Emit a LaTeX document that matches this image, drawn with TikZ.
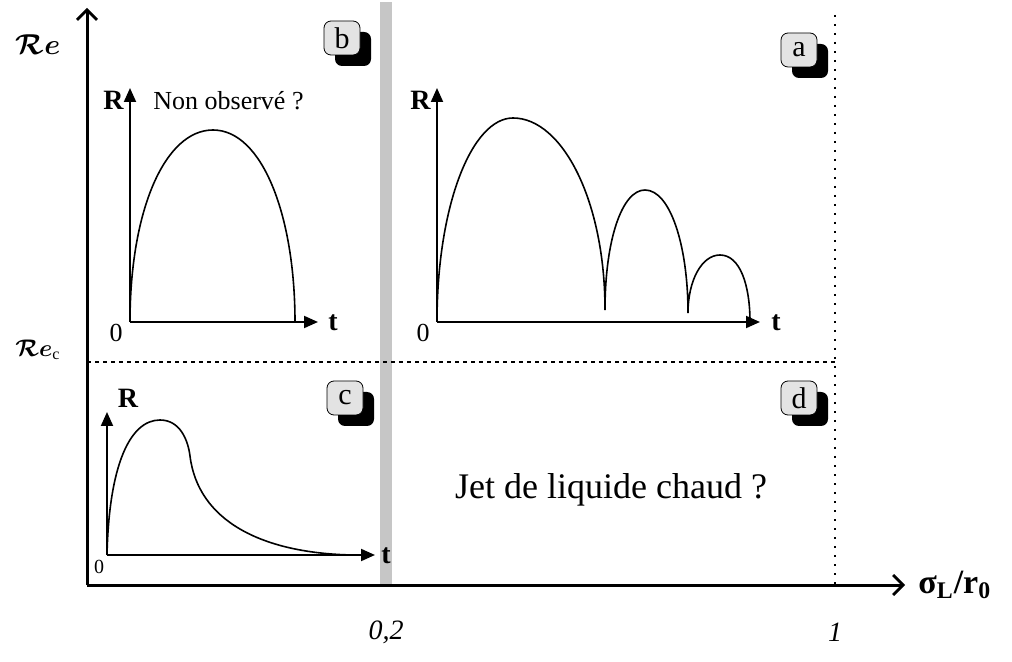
\documentclass[tikz,border=0pt]{standalone}
\usepackage{fontspec}
\setmainfont{Liberation Serif}
\usepackage{bm}
\usetikzlibrary{arrows.meta,shadows}

\begin{document}
\begin{tikzpicture}[x=0.5pt, y=-0.5pt,
  every node/.style={inner sep=0pt, font=\fontsize{13}{15}\selectfont},
  mainaxis/.style={line width=1.5pt, -{Straight Barb[length=5pt,width=10pt,line width=1.4pt]}},
  subaxis/.style={line width=1pt, -{Triangle[length=7pt,width=6pt]}},
  curve/.style={line width=0.8pt},
  axlab/.style={font=\fontsize{14}{16}\selectfont\bfseries},
  badge/.style={draw, fill=gray!22, rounded corners=3.5pt, minimum width=18pt, minimum height=17pt,
    font=\fontsize{15}{17}\selectfont,
    drop shadow={shadow xshift=5.5pt, shadow yshift=-5.5pt, fill=black, opacity=1}}]
  \useasboundingbox (0,0) rectangle (1012,662);

  % main axes
  \coordinate (O) at (87,585);
  \coordinate (ytop) at (87,8);
  \coordinate (xend) at (905,585);
  \fill[gray!45] (380,2) rectangle (392,585);
  \draw[mainaxis] (O) -- (ytop);
  \draw[mainaxis] (O) -- (xend);
  \node[anchor=west, font=\fontsize{17}{19}\selectfont\bfseries] (xlab) at (918,585) {σ\textsubscript{L}/r\textsubscript{0}};
  \node (relab) at (38,45) {\Large$\bm{\mathcal{R}e}$};
  \node (reclab) at (38,350) {\large$\bm{\mathcal{R}e}_{\mathrm{c}}$};
  \node[font=\fontsize{14}{16}\selectfont\itshape] (tick02) at (386,632) {0,2};
  \node[font=\fontsize{14}{16}\selectfont\itshape] (tick1) at (835,632) {1};

  % separators
  \coordinate (rec0) at (87,362);
  \coordinate (rec1) at (835,362);
  \coordinate (one0) at (835,15);
  \coordinate (one1) at (835,585);
  \draw[line width=0.6pt, dash pattern=on 2pt off 2pt] (rec0) -- (rec1);
  \draw[line width=0.6pt, dash pattern=on 1pt off 3.5pt] (one0) -- (one1);

  % badges
  \node[badge] (bb) at (342,38) {b};
  \node[badge] (ba) at (799,50) {a};
  \node[badge] (bc) at (345,398) {c};
  \node[badge] (bd) at (799,398) {d};

  % inset b
  \coordinate (Ob) at (130,322);
  \draw[subaxis] (Ob) -- (130,88);
  \draw[subaxis] (Ob) -- (318,322);
  \node[axlab, anchor=east] (Rb) at (124,100) {R};
  \node[axlab] (tb) at (333,323) {t};
  \node (zb) at (116,333) {0};
  \node[anchor=west] (nonobs) at (153,101) {Non observé ?};
  \draw[curve] (Ob) .. controls (130,210) and (165,130) .. (213,130)
    .. controls (262,130) and (295,215) .. (295,322);

  % inset a
  \coordinate (Oa) at (437,322);
  \draw[subaxis] (Oa) -- (437,88);
  \draw[subaxis] (Oa) -- (760,322);
  \node[axlab, anchor=east] (Ra) at (431,100) {R};
  \node[axlab] (ta) at (776,323) {t};
  \node (za) at (423,333) {0};
  \draw[curve] (Oa) .. controls (437,205) and (472,118) .. (513,118)
    .. controls (562,118) and (605,200) .. (605,310)
    .. controls (605,240) and (622,190) .. (645,190)
    .. controls (670,190) and (688,245) .. (688,313)
    .. controls (688,280) and (702,255) .. (720,255)
    .. controls (740,255) and (750,285) .. (750,322);

  % inset c
  \coordinate (Oc) at (107,555);
  \draw[subaxis] (Oc) -- (107,412);
  \draw[subaxis] (Oc) -- (375,555);
  \node[axlab] (Rc) at (128,398) {R};
  \node[axlab] (tc) at (386,556) {t};
  \node[font=\fontsize{10}{12}\selectfont] (zc) at (99,567) {0};
  \draw[curve] (Oc) .. controls (109,465) and (130,420) .. (160,420)
    .. controls (180,420) and (188,440) .. (190,456)
    .. controls (198,520) and (260,553) .. (352,555);

  % region d
  \node[font=\fontsize{18}{20}\selectfont] (hot) at (611,490) {Jet de liquide chaud ?};
\end{tikzpicture}
\end{document}
